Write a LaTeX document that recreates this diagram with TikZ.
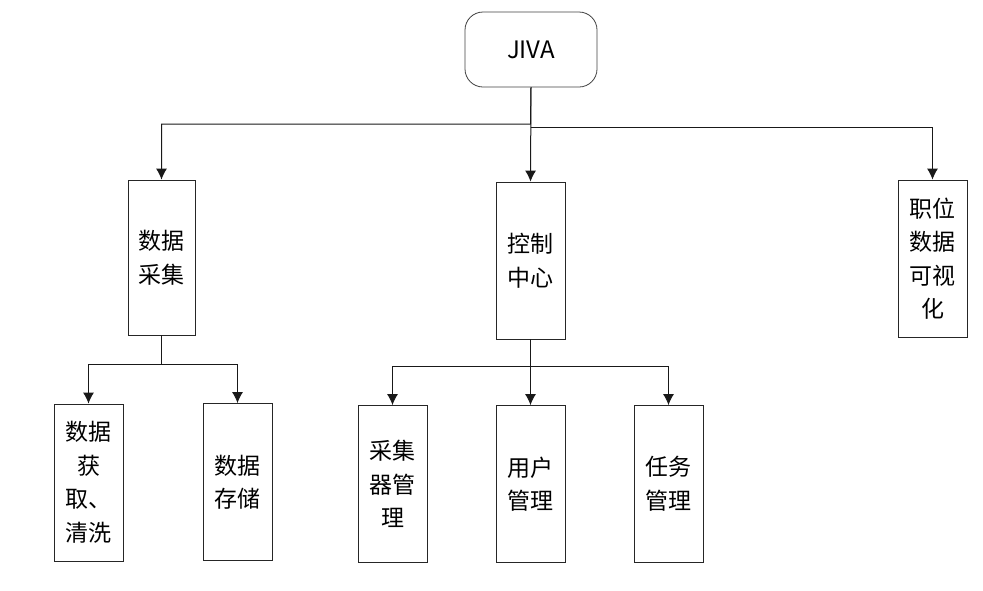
\documentclass[tikz,border=0pt]{standalone}
\usepackage{fontspec}
\setmainfont{Noto Sans CJK SC}
\usetikzlibrary{arrows.meta}

\tikzset{
	box/.style={draw=black!85,line width=0.8pt,minimum width=69pt,minimum height=157pt,
		inner sep=0pt,align=center,font=\fontsize{23}{33.5}\selectfont},
	link/.style={draw=black!90,line width=1pt}
}

\begin{document}
\begin{tikzpicture}[x=1pt,y=-1pt,>={Latex[length=11pt,width=11pt]}]

\useasboundingbox (0,0) rectangle (983,590);

% top
\node[draw=black!75,line width=0.8pt,rounded corners=18pt,minimum width=132pt,minimum height=75pt,
	font=\fontsize{24}{28}\selectfont] (jiva) at (531,49.5) {JIVA};

% second level
\node[box,minimum width=67pt,minimum height=155pt] (cj) at (161.5,257.5) {数据\\采集};
\node[box] (kz) at (530.5,260.5) {控制\\中心};
\node[box] (zw) at (932.5,258.5) {职位\\数据\\可视\\化};

% third level
\node[box] (hq) at (88.5,482.5) {数据\\获\\取、\\清洗};
\node[box] (cc) at (237.5,482) {数据\\存储};
\node[box] (cjq) at (392.5,484) {采集\\器管\\理};
\node[box] (yh) at (530.5,484) {用户\\管理};
\node[box] (rw) at (668.5,484) {任务\\管理};

% connectors
\coordinate (busL) at (530.5,124);
\coordinate (busR) at (530.5,127);
\draw[link,->] (jiva.south) -- (busL) -| (cj.north);
\draw[link,->] (jiva.south) -- (kz.north);
\draw[link,->] (busR) -| (zw.north);

\coordinate (cjbus) at (161.5,364);
\draw[link,->] (cj.south) -- (cjbus) -| (hq.north);
\draw[link,->] (cjbus) -| (cc.north);

\coordinate (kzbus) at (530.5,366);
\draw[link,->] (kz.south) -- (kzbus) -| (cjq.north);
\draw[link,->] (kzbus) -- (yh.north);
\draw[link,->] (kzbus) -| (rw.north);

\end{tikzpicture}
\end{document}
